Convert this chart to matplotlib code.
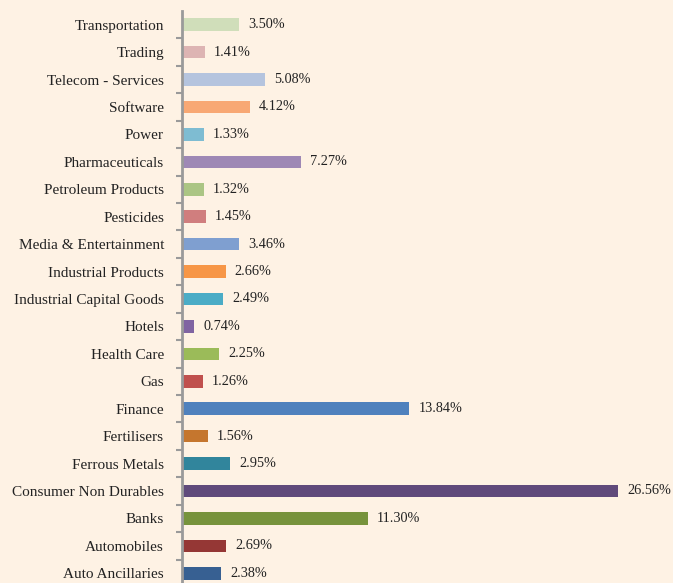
import matplotlib
matplotlib.use("Agg")
import matplotlib.pyplot as plt
import numpy as np

# sectors listed bottom -> top
sectors = [
    "Auto Ancillaries", "Automobiles", "Banks", "Consumer Non Durables",
    "Ferrous Metals", "Fertilisers", "Finance", "Gas", "Health Care", "Hotels",
    "Industrial Capital Goods", "Industrial Products", "Media & Entertainment",
    "Pesticides", "Petroleum Products", "Pharmaceuticals", "Power", "Software",
    "Telecom - Services", "Trading", "Transportation",
]
weights = [2.38, 2.69, 11.30, 26.56, 2.95, 1.56, 13.84, 1.26, 2.25, 0.74,
           2.49, 2.66, 3.46, 1.45, 1.32, 7.27, 1.33, 4.12, 5.08, 1.41, 3.50]
colors = [
    "#376092", "#953735", "#77933C", "#604A7B", "#31859C", "#C5762E",
    "#4F81BD", "#C0504D", "#9BBB59", "#8064A2", "#4BACC6", "#F79646",
    "#7F9FD0", "#D07E7E", "#ABC584", "#9E88B5", "#7EBCD2", "#F8A874",
    "#B5C4DE", "#DDB4B3", "#D0DEBA",
]

bg = "#FEF2E4"
plt.rcParams["font.family"] = ["Liberation Serif", "DejaVu Serif"]

fig = plt.figure(figsize=(6.73, 5.83), dpi=100, facecolor=bg)
ax = fig.add_axes([182 / 673, -4 / 583, 491 / 673, 576 / 583])
ax.set_facecolor(bg)

y = np.arange(len(sectors))
ax.barh(y, weights, height=0.46, color=colors)
for yi, w in zip(y, weights):
    ax.text(w + 0.55, yi, f"{w:.2f}%", va="center", ha="left",
            fontsize=10.3, color="#222222")

ax.set_xlim(0, 29.9)
ax.set_ylim(-0.5, len(sectors) - 0.5)
ax.set_yticks(y)
ax.set_yticklabels(sectors, fontsize=11, color="#222222")
ax.set_yticks(np.arange(len(sectors)) - 0.5, minor=True)
ax.tick_params(axis="y", which="major", length=0, pad=13)
ax.tick_params(axis="y", which="minor", length=4, width=1.5, color="#9A9A9A")
ax.set_xticks([])
for s in ["top", "right", "bottom"]:
    ax.spines[s].set_visible(False)
ax.spines["left"].set_color("#9A9A9A")
ax.spines["left"].set_linewidth(2)

fig.savefig("out.png", dpi=100, facecolor=bg)
